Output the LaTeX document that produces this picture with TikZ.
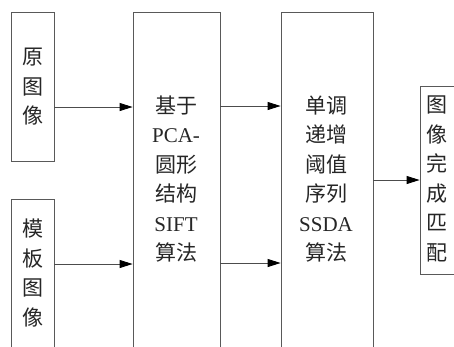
\documentclass[tikz,border=0pt]{standalone}
\usepackage{fontspec}
\setmainfont{Liberation Serif}
\newfontfamily\cjk{Noto Sans CJK SC}
\usetikzlibrary{arrows.meta}
\tikzset{
  box/.style={draw=black!65, line width=0.8pt, inner sep=0pt},
  lbl/.style={align=center, inner sep=0pt, text=black!85, font=\fontsize{21}{29.5}\selectfont\cjk},
  arr/.style={draw=black!70, line width=0.8pt, -{Triangle[length=13pt,width=8pt,color=black]}}
}
\begin{document}
\begin{tikzpicture}[x=1pt,y=-1pt]
\clip (0,0) rectangle (454,346);
\fill[white] (0,0) rectangle (454,346);
% boxes
\node[box, minimum width=43pt, minimum height=149pt] (b1) at (32.5,86.5) {};
\node[box, minimum width=43pt, minimum height=161pt] (b2) at (32.5,279.5) {};
\node[box, minimum width=87pt, minimum height=348pt] (p) at (176.5,186) {};
\node[box, minimum width=92pt, minimum height=348pt] (s) at (327,186) {};
\node[box, minimum width=50pt, minimum height=188pt] (m) at (445,180) {};
% labels
\node[lbl] (t1) at (33,87) {原\\图\\像};
\node[lbl] (t2) at (33,273) {模\\板\\图\\像};
\node[lbl] (tp) at (176,179) {基于\\{\rmfamily PCA-}\\圆形\\结构\\{\rmfamily SIFT}\\算法};
\node[lbl] (ts) at (326,179) {单调\\递增\\阈值\\序列\\{\rmfamily SSDA}\\算法};
\node[lbl] (tm) at (437,179) {图\\像\\完\\成\\匹\\配};
% connector rows
\coordinate (ya) at (0,107);
\coordinate (yb) at (0,264);
\coordinate (yc) at (0,106);
\coordinate (yd) at (0,263);
\coordinate (ye) at (0,180);
\draw[arr] (b1.east |- ya) -- (p.west |- ya);
\draw[arr] (b2.east |- yb) -- (p.west |- yb);
\draw[arr] (p.east |- yc) -- (s.west |- yc);
\draw[arr] (p.east |- yd) -- (s.west |- yd);
\draw[arr] (s.east |- ye) -- (m.west |- ye);
\end{tikzpicture}
\end{document}
